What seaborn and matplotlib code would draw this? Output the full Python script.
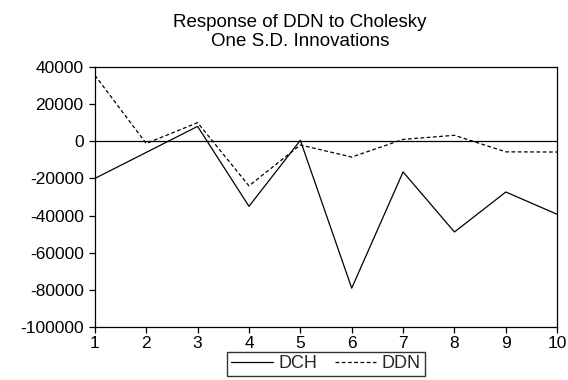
import matplotlib
matplotlib.use("Agg")
import matplotlib.pyplot as plt
import seaborn as sns
import pandas as pd

periods = [1, 2, 3, 4, 5, 6, 7, 8, 9, 10]
dch = [-20000, -6000, 8000, -35000, 500, -79000, -16500, -48800, -27300, -39300]
ddn = [35500, -1200, 10000, -24000, -2000, -8500, 1000, 3200, -5700, -5800]
yticks = [40000, 20000, 0, -20000, -40000, -60000, -80000, -100000]

sns.set_theme(style="white")
plt.rcParams["font.family"] = ["Liberation Sans", "DejaVu Sans"]

fig = plt.figure(figsize=(5.68, 3.8), dpi=100)
ax = fig.add_axes([0.167, 0.139, 0.814, 0.685])

df = pd.DataFrame({"period": periods, "DCH": dch, "DDN": ddn})
sns.lineplot(data=df, x="period", y="DCH", ax=ax, color="black", lw=0.9, label="DCH")
sns.lineplot(data=df, x="period", y="DDN", ax=ax, color="black", lw=0.9,
             dashes=False, linestyle=(0, (3, 2)), label="DDN")
ax.axhline(0, color="black", lw=0.9)

ax.set_xlim(1, 10)
ax.set_ylim(-100000, 40000)
ax.set_xticks(periods)
ax.set_yticks(yticks)
ax.set_yticklabels([str(v) for v in yticks])
ax.set_xlabel("")
ax.set_ylabel("")
ax.tick_params(axis="both", which="both", direction="out", length=4, width=0.9,
               colors="black", labelsize=12.5, left=True, bottom=True)
ax.tick_params(axis="y", pad=4)
ax.tick_params(axis="x", pad=2)
for s in ax.spines.values():
    s.set_color("black")
    s.set_linewidth(0.9)

fig.text(0.528, 0.868, "Response of DDN to Cholesky\nOne S.D. Innovations",
         ha="center", va="bottom", fontsize=13.5, color="black", linespacing=1.15)

ax.get_legend().remove()
handles, labels = ax.get_legend_handles_labels()
fig.legend(handles, labels, loc="center", bbox_to_anchor=(0.574, 0.043),
           ncol=2, frameon=True, fancybox=False, edgecolor="black", fontsize=13,
           handlelength=2.3, handletextpad=0.3, columnspacing=1.0, borderpad=0.2,
           borderaxespad=0)

fig.savefig("out.png", dpi=100)
